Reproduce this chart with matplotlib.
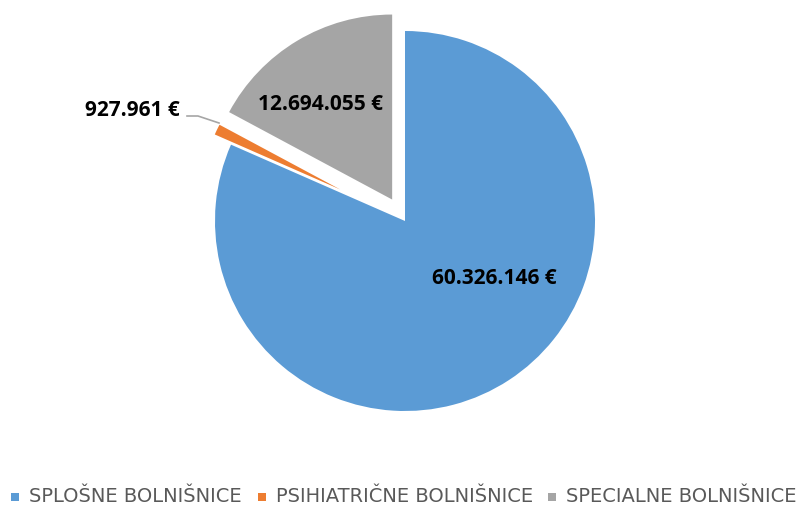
import math
import matplotlib
matplotlib.use("Agg")
import matplotlib.pyplot as plt
from matplotlib.patches import Rectangle
from matplotlib import font_manager

categories = ["SPLOŠNE BOLNIŠNICE", "PSIHIATRIČNE BOLNIŠNICE", "SPECIALNE BOLNIŠNICE"]
values = [60326146, 927961, 12694055]
labels = ["60.326.146 €", "927.961 €", "12.694.055 €"]
colors = ["#5b9bd5", "#ed7d31", "#a5a5a5"]

names = {f.name for f in font_manager.fontManager.ttflist}
narrow = "Liberation Sans Narrow" if "Liberation Sans Narrow" in names else "DejaVu Sans"
bold_font = "Open Sans"

W, H = 799, 507
fig = plt.figure(figsize=(W / 100, H / 100), dpi=100)
ax = fig.add_axes([0, 0, 1, 1])

cx, cy, r = 405, H - 221, 190
wedges, _ = ax.pie(values, colors=colors, startangle=90, counterclock=False,
                   center=(cx, cy), radius=r,
                   wedgeprops=dict(linewidth=0))
# explosion as rendered in the reference (offset in px, own radius)
explode_style = {1: (72, 137), 2: (25, 185)}
for i, (dist, rad) in explode_style.items():
    w = wedges[i]
    mid = math.radians((w.theta1 + w.theta2) / 2)
    w.set_center((cx + dist * math.cos(mid), cy + dist * math.sin(mid)))
    w.set_radius(rad)

ax.set_xlim(0, W)
ax.set_ylim(0, H)
ax.set_aspect("equal")
ax.axis("off")

# data labels
fs = 15
ax.text(494, H - 278, labels[0], ha="center", va="center", fontsize=fs,
        fontweight="bold", family=bold_font, color="black")
ax.text(320, H - 104, labels[2], ha="center", va="center", fontsize=fs,
        fontweight="bold", family=bold_font, color="black")
ax.text(132, H - 111, labels[1], ha="center", va="center", fontsize=fs,
        fontweight="bold", family=bold_font, color="black")
ax.plot([187, 198, 219], [H - 116, H - 116, H - 123], color="#a6a6a6", lw=1.2)

# legend
leg_y = H - 497
leg_x = [15, 262, 552]
for x, c, name in zip(leg_x, colors, categories):
    ax.add_patch(Rectangle((x - 4, leg_y - 4), 8, 8, color=c, lw=0))
    ax.text(x + 14, leg_y, name, ha="left", va="center", fontsize=14,
            family=narrow, color="#595959")

fig.savefig("out.png", dpi=100)
